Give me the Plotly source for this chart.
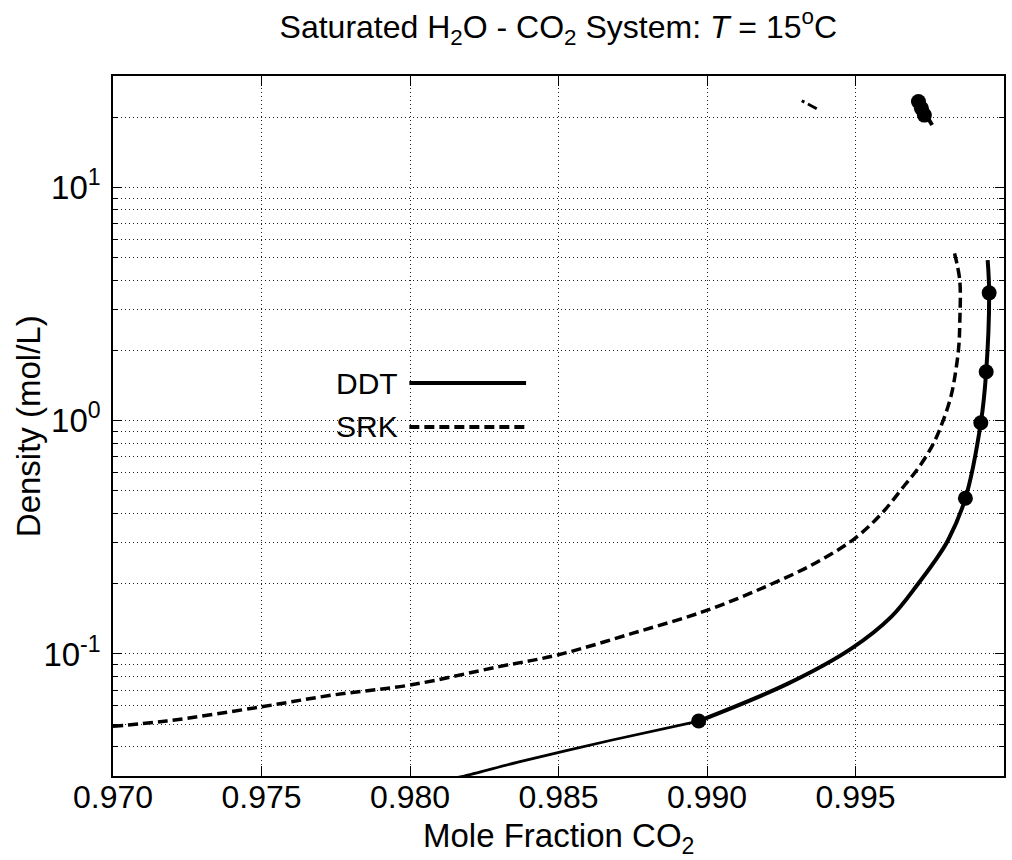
import plotly.graph_objects as go
import numpy as np

# ---------------- data ----------------
ddt_low_x = [0.9812, 0.98183, 0.98367, 0.98681, 0.98972]
ddt_low_y = [0.0289, 0.0300, 0.0345, 0.0428, 0.0516]

ddt_up_x = [0.98972, 0.99274, 0.99487, 0.99621, 0.99711, 0.99765, 0.99812, 0.99870,
            0.99922, 0.99940, 0.99950, 0.99945]
ddt_up_y = [0.0516, 0.0748, 0.1057, 0.1446, 0.200, 0.248, 0.308, 0.465,
            0.98, 1.62, 3.53, 4.88]

ddt_mark_x = [0.98972, 0.99870, 0.99922, 0.99940, 0.99950]
ddt_mark_y = [0.0516, 0.465, 0.98, 1.62, 3.53]

ddt_top_x = [0.99705, 0.99758]
ddt_top_y = [24.0, 18.5]
ddt_top_mark_x = [0.99712, 0.99722, 0.99732]
ddt_top_mark_y = [23.3, 21.8, 20.4]

srk_x = [0.9700, 0.9718, 0.9750, 0.9774, 0.9800, 0.9830, 0.98496, 0.98748, 0.98994,
         0.99196, 0.99364, 0.99498, 0.99588, 0.99666, 0.99711, 0.99760, 0.99795,
         0.99822, 0.99838, 0.99848, 0.99851, 0.99851, 0.99832]
srk_y = [0.0490, 0.0516, 0.0594, 0.0667, 0.0736, 0.0883, 0.099, 0.1225, 0.153,
         0.194, 0.245, 0.313, 0.40, 0.530, 0.625, 0.787, 1.00,
         1.28, 1.65, 2.10, 2.61, 4.0, 5.3]

srk_top_x = [0.99319, 0.99373]
srk_top_y = [23.5, 21.6]

x_ticks = [0.970, 0.975, 0.980, 0.985, 0.990, 0.995, 1.000]
x_ticktext = ["0.970", "0.975", "0.980", "0.985", "0.990", "0.995", "1"]
y_ticks = [0.1, 1, 10]
y_ticktext = ["10<sup>-1</sup>", "10<sup>0</sup>", "10<sup>1</sup>"]
y_minor = [0.03, 0.04, 0.05, 0.06, 0.07, 0.08, 0.09,
           0.2, 0.3, 0.4, 0.5, 0.6, 0.7, 0.8, 0.9,
           2, 3, 4, 5, 6, 7, 8, 9, 20, 30]

FONT = "Liberation Sans, Arial, Helvetica, sans-serif"
GRID = "#222222"
GDASH = "1px,3px"
DASH = "10px,5px"

fig = go.Figure()
fig.add_trace(go.Scatter(x=srk_x, y=srk_y, mode="lines",
                         line=dict(color="black", width=3.5, dash=DASH, shape="spline", smoothing=1.0),
                         showlegend=False))
fig.add_trace(go.Scatter(x=srk_top_x, y=srk_top_y, mode="lines",
                         line=dict(color="black", width=3, dash="3px,4px,10px"), showlegend=False))
fig.add_trace(go.Scatter(x=ddt_low_x, y=ddt_low_y, mode="lines",
                         line=dict(color="black", width=2.8, shape="spline", smoothing=0.6),
                         showlegend=False))
fig.add_trace(go.Scatter(x=ddt_up_x, y=ddt_up_y, mode="lines",
                         line=dict(color="black", width=4, shape="spline", smoothing=1.0),
                         showlegend=False))
fig.add_trace(go.Scatter(x=ddt_mark_x, y=ddt_mark_y, mode="markers",
                         marker=dict(color="black", size=15), showlegend=False))
fig.add_trace(go.Scatter(x=ddt_top_x, y=ddt_top_y, mode="lines",
                         line=dict(color="black", width=4), showlegend=False))
fig.add_trace(go.Scatter(x=ddt_top_mark_x, y=ddt_top_mark_y, mode="markers",
                         marker=dict(color="black", size=15), showlegend=False))

# legend drawn manually (text to the left of the line sample)
leg_items = [("DDT", "solid", 0.5614), ("SRK", DASH, 0.4986)]
for name, dash, yy in leg_items:
    fig.add_annotation(text=name, xref="paper", yref="paper", x=0.3225, y=yy,
                       xanchor="right", yanchor="middle", showarrow=False,
                       font=dict(size=30, color="black", family=FONT))
    fig.add_shape(type="line", xref="paper", yref="paper", x0=0.3326, x1=0.4636,
                  y0=yy, y1=yy, line=dict(color="black", width=4, dash=dash))

# axis titles as annotations for exact placement
fig.add_annotation(text="Mole Fraction CO<sub>2</sub>", xref="paper", yref="paper",
                   x=0.5, y=-0.0555, xanchor="center", yanchor="top", showarrow=False,
                   font=dict(size=33, color="black", family=FONT))
fig.add_annotation(text="Density (mol/L)", xref="paper", yref="paper",
                   x=-0.0952, y=0.5, xanchor="center", yanchor="middle", textangle=-90,
                   showarrow=False, font=dict(size=33, color="black", family=FONT))

fig.update_layout(
    width=1012, height=860,
    margin=dict(l=113, r=6, t=76, b=84),
    paper_bgcolor="white", plot_bgcolor="white",
    font=dict(family=FONT, size=33, color="black"),
    title=dict(text="Saturated H<sub>2</sub>O - CO<sub>2</sub> System: <i>T</i> = 15<sup>o</sup>C",
               x=0.5517, xanchor="center", y=0.969, yanchor="middle",
               font=dict(size=32, family=FONT, color="black")),
    showlegend=False,
)
fig.update_xaxes(
    range=[0.970, 1.000], tickvals=x_ticks, ticktext=x_ticktext,
    ticks="inside", ticklen=10, tickwidth=1.2, tickcolor="black",
    showline=True, linecolor="black", linewidth=1.5, mirror="ticks",
    showgrid=True, gridcolor=GRID, griddash=GDASH, gridwidth=1,
    zeroline=False, tickfont=dict(size=32), ticklabelstandoff=-8,
)
fig.update_yaxes(
    type="log", range=[np.log10(0.03), np.log10(30)],
    tickvals=y_ticks, ticktext=y_ticktext,
    ticks="inside", ticklen=9, tickwidth=1.2, tickcolor="black",
    showline=True, linecolor="black", linewidth=1.5, mirror="ticks",
    showgrid=True, gridcolor=GRID, griddash=GDASH, gridwidth=1,
    zeroline=False, tickfont=dict(size=33), ticklabelstandoff=4,
    minor=dict(tickvals=y_minor, ticks="inside", ticklen=5, tickcolor="black",
               showgrid=True, gridcolor=GRID, griddash=GDASH, gridwidth=1),
)

fig.write_html("out.html")
